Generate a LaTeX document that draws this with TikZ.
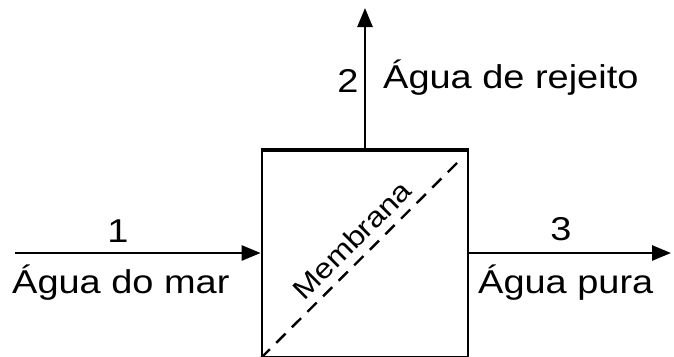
\documentclass[tikz,border=0pt]{standalone}
\usepackage{fontspec}
\setmainfont[FakeStretch=1.15]{Liberation Sans}
\usetikzlibrary{arrows.meta}
\tikzset{
  flow/.style={line width=2.6pt,-{Triangle[length=19pt,width=15pt]}},
  lbl/.style={inner sep=0pt,font=\fontsize{33}{36}\selectfont},
  unit/.style={draw,line width=2.7pt,minimum width=206pt,minimum height=206pt,inner sep=0pt},
}
\begin{document}
\begin{tikzpicture}[x=1pt,y=-1pt]
\useasboundingbox (0,0) rectangle (674,356);
\clip (0,0) rectangle (674,356);
\node[unit] (box) at (365,254) {};
\draw[line width=4pt] (box.north west) -- (box.north east);
\draw[line width=2.4pt,dash pattern=on 13pt off 9pt] (box.south west) -- ([xshift=-10pt,yshift=-11pt]box.north east);
\node[inner sep=0pt,rotate=45,font=\fontsize{28}{30}\selectfont] (mem) at (352,240) {Membrana};
\coordinate (inl) at (15,253);
\coordinate (outr) at (671,253);
\coordinate (top) at (365,8);
\draw[flow] (inl) -- (box.west |- inl);
\draw[flow] (box.east |- outr) -- (outr);
\draw[flow] (box.north) -- (top);
\node[lbl] (n1) at (118,231) {1};
\node[lbl,anchor=west] (t1) at (12,283) {Água do mar};
\node[lbl] (n3) at (561,229) {3};
\node[lbl,anchor=west] (t3) at (478,283) {Água pura};
\node[lbl] (n2) at (348,81) {2};
\node[lbl,anchor=west] (t2) at (383,78) {Água de rejeito};
\end{tikzpicture}
\end{document}
